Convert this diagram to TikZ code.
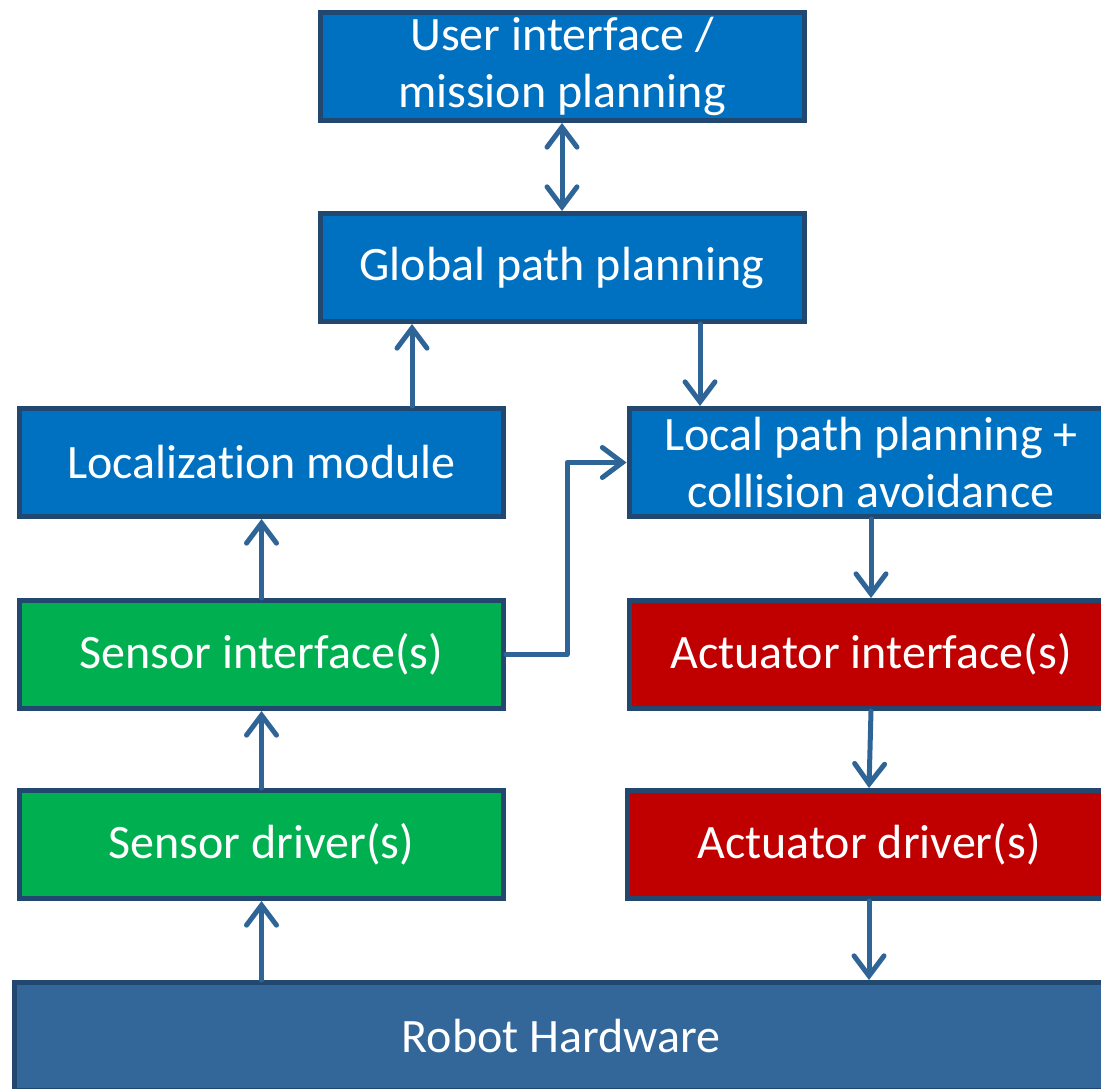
\documentclass[tikz,border=0pt]{standalone}
\usepackage{fontspec}
\setmainfont[Ligatures=NoCommon]{Carlito}
\usetikzlibrary{arrows.meta}
\definecolor{bblue}{HTML}{0070C0}
\definecolor{bgreen}{HTML}{00B050}
\definecolor{bred}{HTML}{C00000}
\definecolor{hwblue}{HTML}{336699}
\definecolor{edgec}{HTML}{234870}
\definecolor{arrc}{HTML}{2F6496}
\tikzset{
  box/.style={draw=edgec, line width=5pt, minimum width=484pt, minimum height=108pt,
    inner sep=0pt, align=center, text=white, font=\fontsize{48}{57}\selectfont},
  arr/.style={draw=arrc, line width=5pt, line cap=round, line join=round,
    -{Straight Barb[length=20pt,width=30pt,line cap=round]}},
  darr/.style={arr, {Straight Barb[length=20pt,width=30pt,line cap=round]}-{Straight Barb[length=20pt,width=30pt,line cap=round]}}
}
\begin{document}
\begin{tikzpicture}[x=1pt,y=-1pt]
\useasboundingbox (0,0) rectangle (1101,1089);
\clip (0,0) rectangle (1101,1089);
\node[box, fill=bblue] (ui) at (562,66.5) {User interface /\\mission planning};
\node[box, fill=bblue] (gp) at (562,267.5) {Global path planning};
\node[box, fill=bblue] (loc) at (261.5,462.5) {Localization module};
\node[box, fill=bblue] (lp) at (871,462.5) {Local path planning +\\collision avoidance};
\node[box, fill=bgreen] (si) at (261.5,654.5) {Sensor interface(s)};
\node[box, fill=bred] (ai) at (871,654.5) {Actuator interface(s)};
\node[box, fill=bgreen] (sd) at (261.5,844.5) {Sensor driver(s)};
\node[box, fill=bred] (ad) at (869,844.5) {Actuator driver(s)};
\node[box, fill=hwblue, minimum width=1093pt] (rh) at (561,1036.5) {Robot Hardware};
\coordinate (xa) at (412,0);
\coordinate (xb) at (700,0);
\coordinate (xt) at (567,0);
\draw[darr] (ui.south) -- (gp.north);
\draw[arr] (loc.north -| xa) -- (gp.south -| xa);
\draw[arr] (gp.south -| xb) -- (lp.north -| xb);
\draw[arr] (si.north) -- (loc.south);
\draw[arr] (si.east) -- (si.east -| xt) |- (lp.west);
\draw[arr] (lp.south) -- (ai.north);
\draw[arr] (ai.south) -- (ad.north);
\draw[arr] (ad.south) -- (ad.south |- rh.north);
\draw[arr] (sd.south |- rh.north) -- (sd.south);
\draw[arr] (sd.north) -- (si.south);
\end{tikzpicture}
\end{document}
